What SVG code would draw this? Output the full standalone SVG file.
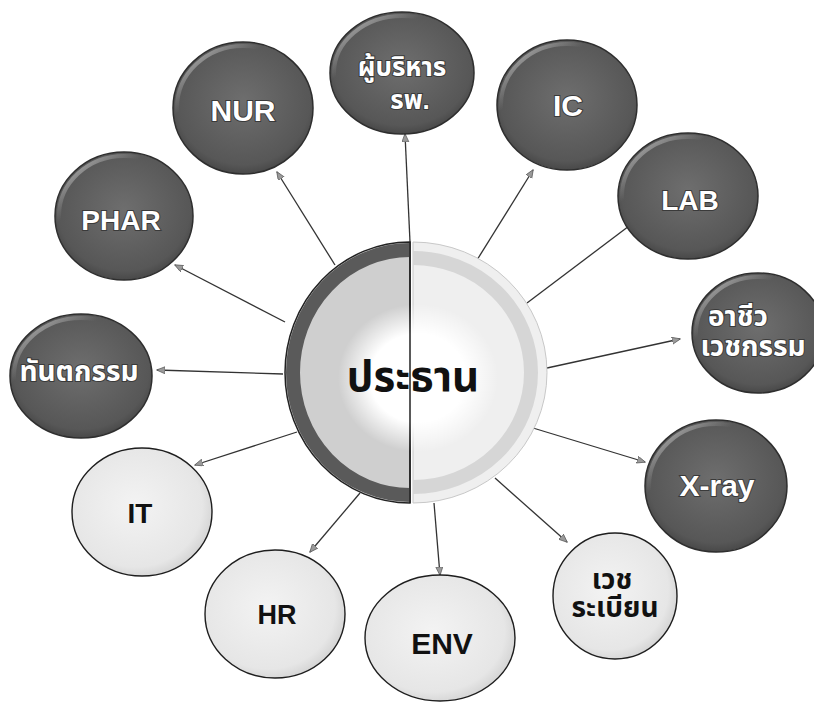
<svg xmlns="http://www.w3.org/2000/svg" width="814" height="702" viewBox="0 0 814 702">
<defs>
<radialGradient id="gDark" cx="0.5" cy="0.45" r="0.6">
<stop offset="0" stop-color="#6e6e6e"/>
<stop offset="0.8" stop-color="#575757"/>
<stop offset="1" stop-color="#3e3e3e"/>
</radialGradient>
<linearGradient id="gHi" x1="0" y1="0" x2="0.6" y2="0.7">
<stop offset="0" stop-color="#d8d8d8" stop-opacity="0.95"/>
<stop offset="0.45" stop-color="#bbbbbb" stop-opacity="0"/>
</linearGradient>
<radialGradient id="gLight" cx="0.45" cy="0.45" r="0.6">
<stop offset="0" stop-color="#f3f3f3"/>
<stop offset="0.8" stop-color="#e6e6e6"/>
<stop offset="1" stop-color="#cfcfcf"/>
</radialGradient>
<radialGradient id="gInner" cx="0.5" cy="0.5" r="0.5">
<stop offset="0" stop-color="#ffffff"/>
<stop offset="0.6" stop-color="#ffffff"/>
<stop offset="1" stop-color="#ffffff" stop-opacity="0"/>
</radialGradient>
<marker id="arr" markerWidth="9" markerHeight="8" refX="8" refY="3.5" orient="auto" markerUnits="userSpaceOnUse">
<path d="M0,0 L8.5,3.5 L0,7 Z" fill="#9a9a9a" stroke="#555" stroke-width="0.7"/>
</marker>
</defs>
<style>
.dark{fill:url(#gDark);stroke:#2e2e2e;stroke-width:1.5}
.hi{fill:none;stroke:url(#gHi);stroke-width:4}
.light{fill:url(#gLight);stroke:#1e1e1e;stroke-width:1.4}
.tw{font-family:"Liberation Sans","Noto Sans Thai","Noto Sans",sans-serif;font-weight:bold;fill:#ffffff;stroke:#3a3a3a;stroke-width:2;paint-order:stroke;text-anchor:middle}
.tb{font-family:"Liberation Sans","Noto Sans Thai","Noto Sans",sans-serif;font-weight:bold;fill:#111;text-anchor:middle}
.con line{stroke:#333;stroke-width:1.3;marker-end:url(#arr)}
</style>
<rect width="814" height="702" fill="#ffffff"/>

<g id="connectors" class="con">
<line x1="335" y1="265" x2="277" y2="172"/>
<line x1="410" y1="242" x2="405" y2="134"/>
<line x1="477" y1="260" x2="533" y2="170"/>
<line x1="527" y1="303" x2="637" y2="220"/>
<line x1="547" y1="368" x2="680" y2="339"/>
<line x1="533" y1="428" x2="645" y2="462"/>
<line x1="495" y1="478" x2="567" y2="542"/>
<line x1="434" y1="503" x2="440" y2="575"/>
<line x1="360" y1="493" x2="310" y2="552"/>
<line x1="297" y1="432" x2="195" y2="465"/>
<line x1="283" y1="374" x2="157" y2="370"/>
<line x1="285" y1="322" x2="175" y2="265"/>
</g>

<g id="center">
<path d="M413,242 A134,130.5 0 0 1 413,503 Z" fill="#efefef" stroke="#c8c8c8" stroke-width="1"/>
<path d="M413,258 A118,114.5 0 0 1 413,487" fill="none" stroke="#d6d6d6" stroke-width="14"/>
<path d="M410,242 A125,130.5 0 0 0 410,503 Z" fill="#cfcfcf" stroke="#222" stroke-width="1.5"/>
<path d="M410,250 A117,122.5 0 0 0 410,495" fill="none" stroke="#5a5a5a" stroke-width="14"/>
<ellipse cx="418" cy="378" rx="80" ry="74" fill="url(#gInner)"/>
<line x1="410" y1="242" x2="410" y2="503" stroke="#222" stroke-width="1.5"/>
<text x="413" y="391" font-family="'Noto Sans Thai','Noto Serif Thai','DejaVu Serif',serif" font-weight="bold" font-size="42" fill="#111" text-anchor="middle">ประธาน</text>
</g>

<g id="nur">
<ellipse class="dark" cx="243" cy="108" rx="70" ry="66"/>
<ellipse class="hi" cx="243" cy="108" rx="66" ry="62"/>
<text class="tw" x="243" y="121" font-size="30">NUR</text>
</g>
<g id="exec">
<ellipse class="dark" cx="402" cy="73" rx="72" ry="61"/>
<ellipse class="hi" cx="402" cy="73" rx="68" ry="57"/>
<text class="tw" font-size="26"><tspan x="402" y="76">ผู้บริหาร</tspan><tspan x="410" y="109">รพ.</tspan></text>
</g>
<g id="ic">
<ellipse class="dark" cx="567" cy="105" rx="70" ry="65"/>
<ellipse class="hi" cx="567" cy="105" rx="66" ry="61"/>
<text class="tw" x="568" y="116" font-size="30">IC</text>
</g>
<g id="lab">
<ellipse class="dark" cx="688" cy="196" rx="70" ry="63"/>
<ellipse class="hi" cx="688" cy="196" rx="66" ry="59"/>
<text class="tw" x="690" y="210" font-size="28">LAB</text>
</g>
<g id="phar">
<ellipse class="dark" cx="124" cy="216" rx="69" ry="64"/>
<ellipse class="hi" cx="124" cy="216" rx="65" ry="60"/>
<text class="tw" x="121" y="230" font-size="28">PHAR</text>
</g>
<g id="dent">
<ellipse class="dark" cx="81" cy="376" rx="71" ry="62"/>
<ellipse class="hi" cx="81" cy="376" rx="67" ry="58"/>
<text class="tw" x="79" y="381" font-size="28">ทันตกรรม</text>
</g>
<g id="occ">
<ellipse class="dark" cx="758" cy="333" rx="66" ry="60"/>
<ellipse class="hi" cx="758" cy="333" rx="62" ry="56"/>
<text class="tw" font-size="28"><tspan x="738" y="326">อาชีว</tspan><tspan x="753" y="356">เวชกรรม</tspan></text>
</g>
<g id="xray">
<ellipse class="dark" cx="716" cy="486" rx="71" ry="66"/>
<ellipse class="hi" cx="716" cy="486" rx="67" ry="62"/>
<text class="tw" x="717" y="496" font-size="30">X-ray</text>
</g>
<g id="it">
<ellipse class="light" cx="142" cy="512" rx="70" ry="64"/>
<text class="tb" x="140" y="523" font-size="28">IT</text>
</g>
<g id="hr">
<ellipse class="light" cx="275" cy="614" rx="70" ry="64"/>
<text class="tb" x="277" y="624" font-size="27">HR</text>
</g>
<g id="env">
<ellipse class="light" cx="440" cy="638" rx="75" ry="63"/>
<text class="tb" x="442" y="654" font-size="30">ENV</text>
</g>
<g id="mr">
<ellipse class="light" cx="615" cy="596" rx="62" ry="63"/>
<text class="tb" font-size="28"><tspan x="612" y="589">เวช</tspan><tspan x="615" y="617">ระเบียน</tspan></text>
</g>
</svg>
